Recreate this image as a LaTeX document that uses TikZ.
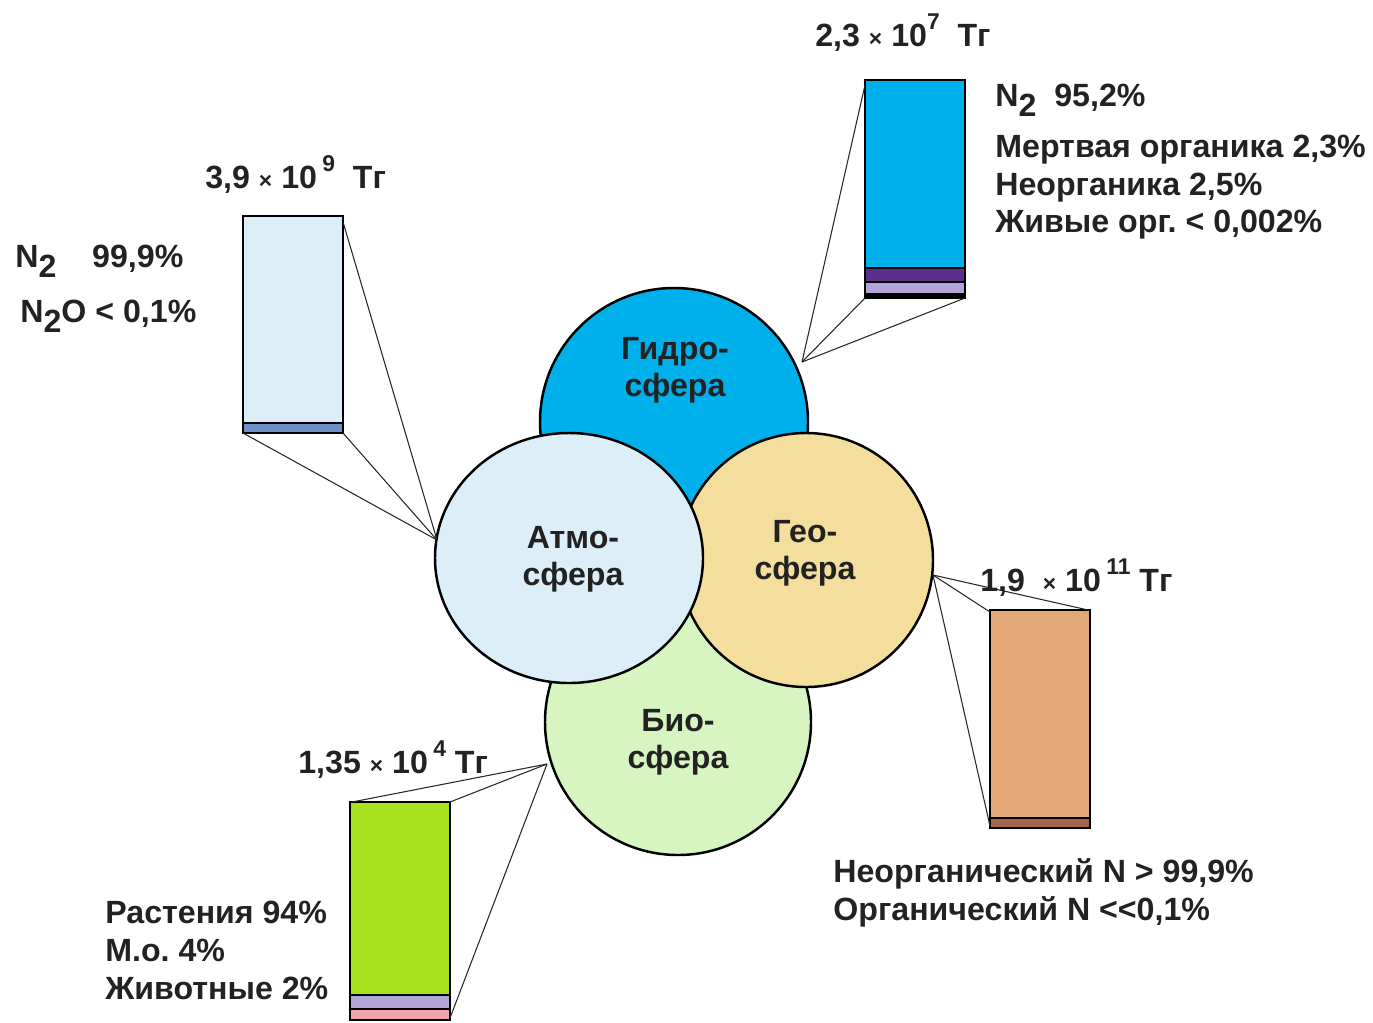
\documentclass[tikz,border=0pt]{standalone}
\usepackage{fontspec}
\setmainfont{Liberation Sans}
\frenchspacing
\definecolor{hydro}{HTML}{00B0EA}
\definecolor{atmo}{HTML}{DCEEF8}
\definecolor{geo}{HTML}{F3DE9E}
\definecolor{bio}{HTML}{D6F5C0}
\definecolor{atmostripe}{HTML}{6F92C6}
\definecolor{hpurple}{HTML}{5A2E8A}
\definecolor{hlav}{HTML}{B4A5D8}
\definecolor{geobar}{HTML}{E2A878}
\definecolor{geostripe}{HTML}{A5674B}
\definecolor{biobar}{HTML}{A8E21E}
\definecolor{biopink}{HTML}{F2A4AC}
\definecolor{txt}{HTML}{222222}
\newcommand\mylo[1]{\raisebox{-0.32em}{#1}}
\newcommand\myhi[1]{\raisebox{0.5em}{\fontsize{13}{13}\selectfont #1}}
\newcommand\mytimes{{\fontsize{13}{13}\selectfont ×}}
\tikzset{
  sphere/.style={draw=black, line width=1.4pt},
  slabel/.style={font=\bfseries\fontsize{18.3}{21}\selectfont, text=txt, align=center, inner sep=0pt},
  lbl/.style={font=\bfseries\fontsize{18.3}{21}\selectfont, text=txt, anchor=base west, inner sep=0pt},
  barbox/.style={draw=black, line width=1.4pt},
  conn/.style={draw=black!85, line width=0.6pt},
}
\begin{document}
\begin{tikzpicture}[x=0.02cm, y=-0.02cm]
\useasboundingbox (0,0) rectangle (1373,1022);
% spheres
\fill[hydro] (674,422) circle[radius=134];
\draw[sphere] (674,422) circle[radius=134];
\fill[bio] (678,722) circle[radius=133];
\draw[sphere] (678,722) circle[radius=133];
\filldraw[sphere, fill=geo] (806,560) ellipse[x radius=127, y radius=127];
\filldraw[sphere, fill=atmo] (569,558) ellipse[x radius=134, y radius=125];
\node[slabel] (hyd) at (675,370) {Гидро-\\сфера};
\node[slabel] (atm) at (573,559) {Атмо-\\сфера};
\node[slabel] (geol) at (805,553) {Гео-\\сфера};
\node[slabel] (biol) at (678,742) {Био-\\сфера};
% anchor points on spheres
\coordinate (pA) at (437,540);
\coordinate (pH) at (802,362);
\coordinate (pG) at (933,575);
\coordinate (pB) at (547,764);
% atmosphere bar
\fill[atmo] (243,216) rectangle (343,433);
\fill[atmostripe] (243,423) rectangle (343,433);
\draw[black, line width=1pt] (243,423) -- (343,423);
\draw[barbox] (243,216) rectangle (343,433);
\coordinate (aTR) at (343,222);
\coordinate (aBL) at (243,433);
\coordinate (aBR) at (343,433);
\draw[conn] (pA) -- (aTR);
\draw[conn] (pA) -- (aBL);
\draw[conn] (pA) -- (aBR);
% hydrosphere bar
\fill[hydro] (865,80) rectangle (965,298);
\fill[hpurple] (865,268) rectangle (965,281);
\fill[hlav] (865,283) rectangle (965,293);
\fill[black] (865,293) rectangle (965,298);
\draw[black, line width=1pt] (865,268) -- (965,268);
\draw[black, line width=1pt] (865,282) -- (965,282);
\draw[barbox] (865,80) rectangle (965,298);
\coordinate (hTL) at (865,85);
\coordinate (hBL) at (865,298);
\coordinate (hBR) at (965,298);
\draw[conn] (pH) -- (hTL);
\draw[conn] (pH) -- (hBL);
\draw[conn] (pH) -- (hBR);
% geosphere bar
\fill[geobar] (990,610) rectangle (1090,828);
\fill[geostripe] (990,818) rectangle (1090,828);
\draw[black, line width=1pt] (990,818) -- (1090,818);
\draw[barbox] (990,610) rectangle (1090,828);
\coordinate (gTL) at (990,612);
\coordinate (gTR) at (1088,610);
\coordinate (gBL) at (990,826);
\draw[conn] (pG) -- (gTL);
\draw[conn] (pG) -- (gTR);
\draw[conn] (pG) -- (gBL);
% biosphere bar
\fill[biobar] (350,802) rectangle (450,1020);
\fill[hlav] (350,995) rectangle (450,1008);
\fill[biopink] (350,1010) rectangle (450,1019);
\draw[black, line width=1pt] (350,995) -- (450,995);
\draw[black, line width=1pt] (350,1009) -- (450,1009);
\draw[barbox] (350,802) rectangle (450,1020);
\coordinate (bTL) at (352,802);
\coordinate (bTR) at (450,802);
\coordinate (bBR) at (450,1018);
\draw[conn] (pB) -- (bTL);
\draw[conn] (pB) -- (bTR);
\draw[conn] (pB) -- (bBR);
% labels
\node[lbl] (t1) at (815,46) {2,3 \mytimes\ 10\myhi{7}\ \ Тг};
\node[lbl] (t2) at (995,106) {N\mylo{2}\ \ 95,2\%};
\node[lbl] (t3) at (995,157) {Мертвая органика 2,3\%};
\node[lbl] (t4) at (995,195) {Неорганика 2,5\%};
\node[lbl] (t5) at (995,232) {Живые орг. < 0,002\%};
\node[lbl] (t6) at (205,188) {3,9 \mytimes\ 10\,\myhi{9}\ \ Тг};
\node[lbl] (t7) at (15,267) {N\mylo{2}\ \ \ \ 99,9\%};
\node[lbl] (t8) at (20,322) {N\mylo{2}O < 0,1\%};
\node[lbl] (t9) at (980,591) {1,9 \ \mytimes\ 10\,\myhi{11}\ Тг};
\node[lbl] (t10) at (833,882) {Неорганический N > 99,9\%};
\node[lbl] (t11) at (833,920) {Органический N <{}<0,1\%};
\node[lbl] (t12) at (298,773) {1,35 \mytimes\ 10\,\myhi{4}\ Тг};
\node[lbl] (t13) at (105,923) {Растения 94\%};
\node[lbl] (t14) at (105,961) {М.о. 4\%};
\node[lbl] (t15) at (105,999) {Животные 2\%};
\end{tikzpicture}
\end{document}
